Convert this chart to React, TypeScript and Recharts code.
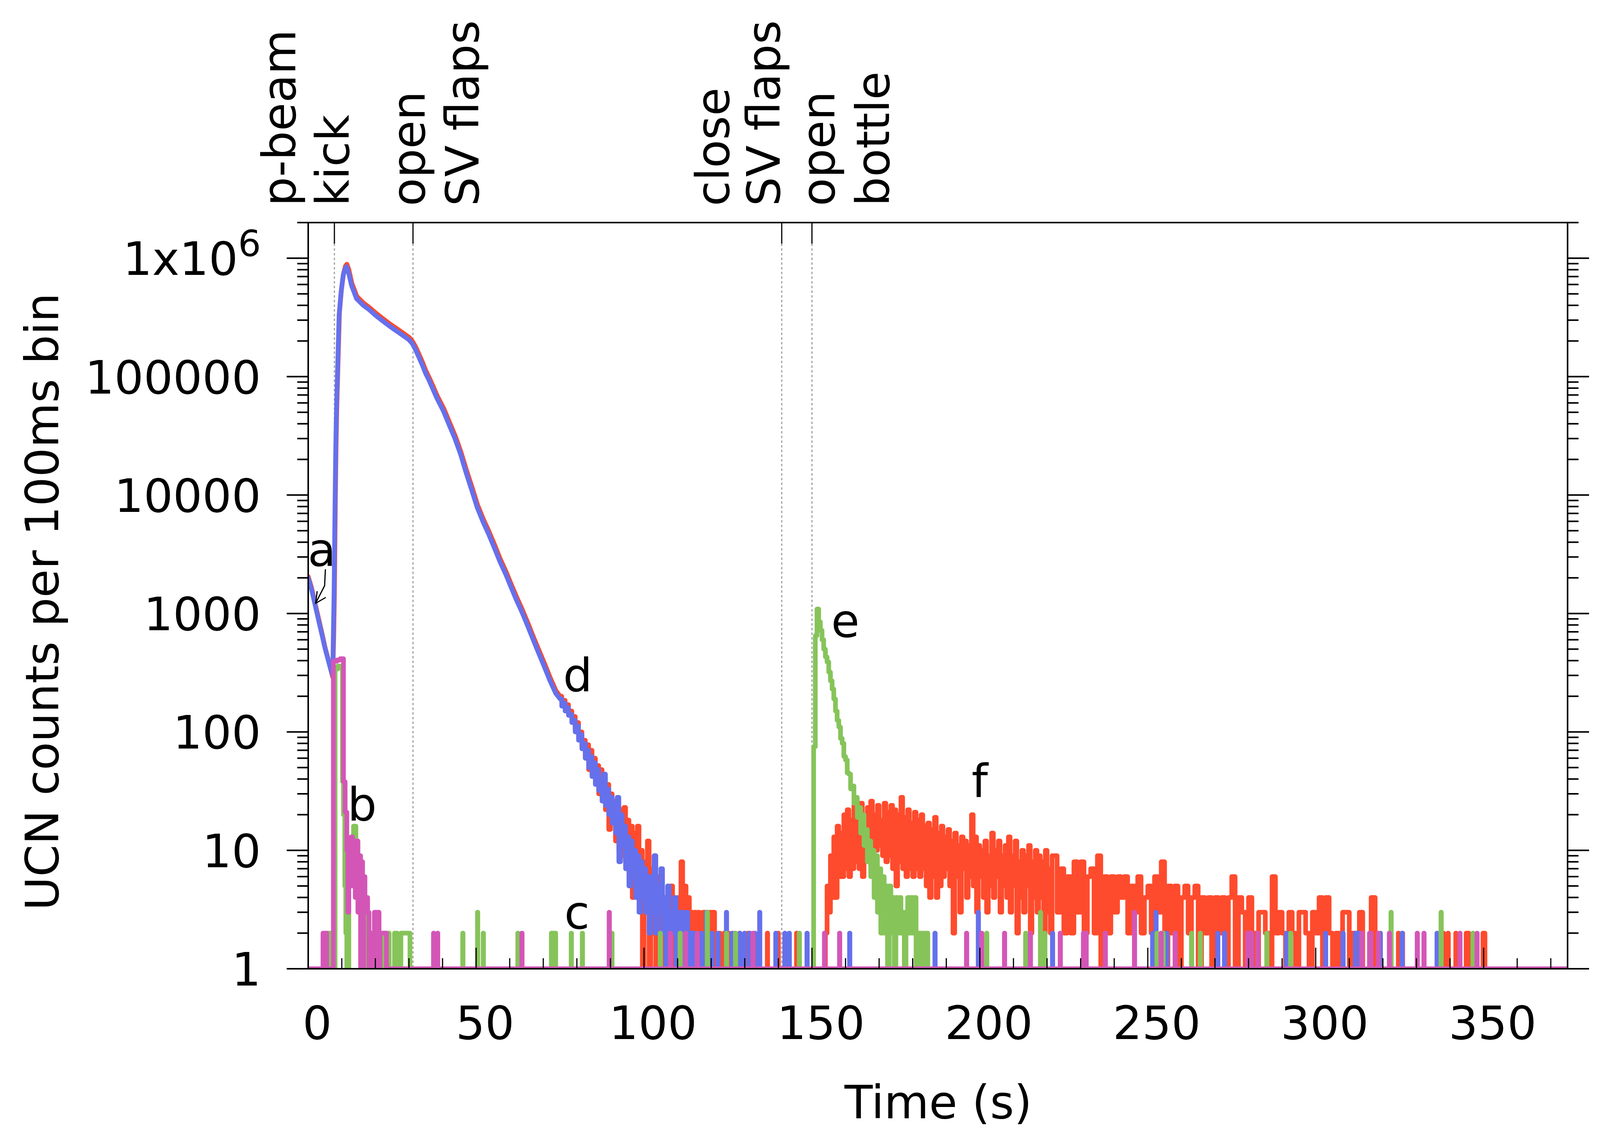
import React from "react";
import { LineChart, Line, XAxis, YAxis, ReferenceLine } from "recharts";

const W = 4306;
const H = 2917;
const LEFT = 789;
const RIGHT = 4013;
const TOP = 570;
const BOTTOM = 2481;
const FONT = "'DejaVu Sans', sans-serif";
const FS = 118;
const LW = 12;

const RED = "#ff4b2d";
const BLUE = "#6570ec";
const GREEN = "#86c45a";
const MAGENTA = "#d356b7";

// axes
const xTicks = [0, 10, 20, 30, 40, 50, 60, 70, 80, 90, 100, 110, 120, 130, 140, 150, 160, 170, 180, 190,
  200, 210, 220, 230, 240, 250, 260, 270, 280, 290, 300, 310, 320, 330, 340, 350, 360, 370];
const xMajor = [0, 50, 100, 150, 200, 250, 300, 350];
const xMajorLabels = ["0", "50", "100", "150", "200", "250", "300", "350"];
const yMajor = [1, 10, 100, 1000, 10000, 100000, 1000000];
const yMajorLabels = ["1", "10", "100", "1000", "10000", "100000", "1x10^6"];
const yMinorFactors = [2, 3, 4, 5, 6, 7, 8, 9];
const yTop = 2000000;
const yTicks = [...yMajor, ...yMajor.slice(0, -1).flatMap((d) => yMinorFactors.map((f) => f * d)), yTop];

// shutter / valve events (s)
const eventTimes = [7.8, 31.2, 141, 150];

// d: detector counts before and after the flaps open, [time, counts]
const blueSmooth = [
  [0, 2000], [1, 1600], [2, 1200], [3, 900], [4, 680], [5, 510], [6, 400], [6.8, 330], [7.3, 300],
  [7.5, 700], [7.7, 1500], [8.0, 9000], [8.2, 25000], [8.4, 50000], [8.8, 130000], [9.2, 330000],
  [9.8, 520000], [10.4, 710000], [11.0, 820000], [11.4, 850000], [12.0, 760000], [12.9, 590000],
  [14.4, 455000], [16.4, 400000], [18.3, 365000], [20, 330000], [22.2, 295000], [24, 270000],
  [26.1, 245000], [28, 225000], [30, 205000], [31, 190000], [32, 168000], [33, 145000], [34, 125000],
  [35, 106000], [36, 93000], [37, 80000], [38.3, 66000], [40.3, 51000], [42, 39000], [43.7, 30000],
  [45.4, 22000], [47, 15500], [48.7, 11000], [50.3, 7900], [52, 6000], [53.7, 4700], [55.4, 3600],
  [57.1, 2740], [58.8, 2150], [60.4, 1670], [62, 1300], [63.7, 1020], [65.4, 780], [67.1, 590],
  [68.8, 450], [70.4, 350], [72, 270], [73.7, 212], [75, 190],
];
const redSmooth = [
  [0, 2050], [1, 1650], [2, 1230], [3, 930], [4, 700], [5, 520], [6, 405], [6.8, 330], [7.3, 290],
  [7.6, 650], [7.8, 1400], [8.1, 9500], [8.3, 26000], [8.5, 52000], [8.9, 135000], [9.3, 345000],
  [9.9, 545000], [10.5, 740000], [11.1, 860000], [11.5, 890000], [12.1, 800000], [13.0, 615000],
  [14.5, 475000], [16.5, 418000], [18.4, 380000], [20.1, 345000], [22.3, 308000], [24.1, 282000],
  [26.2, 256000], [28.1, 235000], [30.1, 214000], [31.1, 198000], [32.1, 176000], [33.1, 152000],
  [34.1, 131000], [35.1, 111000], [36.1, 97000], [37.1, 84000], [38.4, 69000], [40.4, 53500],
  [42.1, 41000], [43.8, 31500], [45.5, 23000], [47.1, 16300], [48.8, 11600], [50.4, 8300],
  [52.1, 6300], [53.8, 4950], [55.5, 3800], [57.2, 2880], [58.9, 2260], [60.5, 1750], [62.1, 1370],
  [63.8, 1070], [65.5, 820], [67.2, 620], [68.9, 475], [70.5, 370], [72.1, 285], [73.8, 222], [75, 200],
];

// noisy tail, counts every 0.5 s from 75 s
const blueNoise = [
  190, 165, 175, 150, 160, 138, 140, 120, 125, 100,
  112, 85, 95, 72, 80, 60, 70, 50, 62, 42,
  55, 36, 48, 32, 40, 26, 44, 24, 33, 20,
  28, 17, 25, 14, 28, 8, 20, 11, 16, 7,
  13, 5, 12, 6, 10, 4, 9, 3, 8, 4,
  7, 3, 6, 2, 6, 3, 9, 2, 5, 3,
  7, 2, 4, 1, 5, 2, 3, 2, 4, 1,
  3, 2, 3, 1, 2, 3, 1, 2, 1, 2,
  1,
];
const redNoise = [
  200, 175, 185, 160, 170, 145, 150, 125, 135, 105,
  120, 90, 100, 75, 85, 60, 78, 48, 70, 45,
  60, 38, 52, 30, 48, 28, 40, 22, 36, 15,
  30, 18, 26, 12, 24, 10, 22, 9, 23, 8,
  18, 6, 16, 4, 14, 5, 16, 4, 10, 1,
  8, 3, 12, 1, 7, 2, 9, 1, 6, 2,
  5, 1, 4, 2, 3, 1, 5, 1, 3, 2,
  4, 1, 8, 2, 5, 1, 4, 2, 3, 1,
  3, 1, 3, 2, 1, 3, 2, 3, 1, 3,
  2, 3, 1,
];

// single bins, [time, counts, number of 0.1 s bins]
const blueSpikes = [
  [117.0, 2], [118.5, 3], [120.2, 2], [122.0, 2], [124.5, 3], [126.2, 2], [128.5, 2], [129.9, 2],
  [131.5, 2], [133.0, 2], [134.4, 3], [139.2, 2], [141.9, 2], [143.2, 2], [148.5, 2], [161.2, 2],
  [186.6, 2], [199.5, 3], [221.6, 2], [251.4, 2], [252.4, 3], [255.6, 2], [270.8, 2], [272.8, 2],
  [291.3, 2], [302.9, 2], [308.1, 2], [311.8, 2, 15], [319.2, 2], [325.7, 2], [336.1, 2],
];
const redSpikes = [
  [122.5, 2], [123.8, 2], [125.2, 2], [127.0, 2], [128.4, 2], [130.9, 2], [136.7, 2], [139.9, 2], [145.4, 2],
];

// f: counts after the bottle is opened, every 0.5 s from 154 s, then every 1 s from 222 s
const redF = [
  2, 5, 3, 9, 4, 13, 4, 16, 6, 14,
  6, 20, 7, 22, 6, 18, 7, 24, 8, 21,
  7, 25, 6, 19, 9, 23, 10, 26, 11, 20,
  10, 24, 11, 18, 9, 25, 8, 21, 9, 24,
  7, 22, 5, 20, 8, 28, 7, 19, 6, 22,
  7, 17, 6, 21, 7, 18, 6, 20, 7, 16,
  5, 17, 4, 15, 6, 19, 4, 14, 5, 16,
  6, 13, 7, 15, 5, 12, 2, 14, 6, 11,
  3, 13, 7, 12, 4, 11, 6, 20, 5, 13,
  3, 11, 6, 10, 4, 12, 3, 9, 5, 14,
  4, 10, 6, 12, 3, 9, 5, 11, 4, 13,
  3, 9, 5, 12, 2, 8, 4, 10, 3, 9,
  5, 11, 2, 8, 4, 10, 3, 9, 4, 8,
  2, 10, 3, 7, 2, 9,
];
const redTail = [
  9, 3, 7, 2, 6, 2, 8, 3, 8, 2,
  6, 7, 2, 9, 1, 6, 2, 6, 3, 6,
  4, 6, 2, 5, 3, 6, 2, 4, 5, 2,
  6, 3, 8, 1, 5, 2, 5, 1, 4, 5,
  2, 4, 5, 1, 4, 2, 4, 1, 4, 2,
  4, 1, 4, 6, 1, 4, 3, 1, 4, 2,
  1, 3, 3, 2, 1, 6, 2, 3, 2, 1,
  3, 2, 1, 3, 3, 2, 1, 3, 2, 4,
  1, 4, 2, 1, 2, 1, 3, 3, 1, 2,
  1, 3, 1, 1,
];
const redLateSpikes = [
  [316.5, 4, 12], [324.6, 2], [325.8, 2], [338.0, 2], [339.4, 2], [341.7, 2], [344.8, 2, 8], [349.8, 2, 6],
];

// e: green detector, step points [time, counts]
const greenEarly = [
  [0, 1], [5.7, 2], [7.1, 1], [8.0, 340], [8.8, 360], [9.5, 350], [10.2, 38], [10.5, 20], [10.9, 5],
  [11.2, 2], [11.5, 1], [12.1, 12], [12.8, 8], [13.5, 16], [14.2, 12], [14.8, 9], [15.5, 6], [16.2, 4],
  [17.0, 2], [17.7, 1], [22.2, 2], [24.1, 1], [25.7, 2], [26.5, 1], [27.6, 2], [30.3, 1],
];
const greenMidSpikes = [
  [46.0, 2], [50.4, 3], [52.1, 2], [62.4, 2], [72.4, 2, 13], [78.3, 2], [81.6, 2], [90.4, 2],
  [104.8, 2], [110.7, 2], [118.8, 3], [124.5, 2], [127.2, 2], [146.2, 2],
];
// counts every 0.5 s from 150 s
const greenE = [
  1, 75, 650, 1090, 850, 720, 600, 500, 430, 390,
  320, 270, 230, 190, 150, 125, 110, 88, 80, 62,
  58, 45, 44, 33, 35, 25, 28, 19, 23, 14,
  20, 11, 15, 8, 12, 6, 10, 4, 9, 3,
  7, 2, 6, 2, 5, 1, 5, 2, 4, 1,
  4, 2, 4, 2, 3, 1, 3, 4, 2, 4,
  2, 4, 1, 2, 1, 2, 1, 2, 2, 1,
];
const greenLateSpikes = [
  [202.0, 2], [213.6, 2], [218.0, 3], [219.3, 2], [252.7, 2], [254.5, 2], [263.0, 2], [265.6, 2],
  [285.4, 2], [292.5, 2], [322.4, 3], [337.3, 3], [346.8, 2],
];

// b: magenta detector, step points [time, counts]
const magentaEarly = [
  [0, 1], [4.4, 2], [5.5, 1], [7.5, 395], [8.6, 405], [9.5, 415], [10.5, 38], [11.0, 21], [11.5, 10],
  [11.8, 3], [12.1, 10], [12.4, 5], [12.8, 13], [13.2, 5], [13.6, 12], [14.0, 4], [14.4, 12], [14.8, 3],
  [15.2, 9], [15.6, 1], [15.9, 8], [16.2, 1], [16.5, 6], [16.9, 3], [17.3, 4], [17.7, 3], [18.1, 1],
  [18.4, 2], [19.1, 1], [19.7, 3], [21.1, 1], [21.4, 2], [23.3, 1],
];
const magentaSpikes = [
  [37.3, 2], [38.5, 2], [63.6, 2], [89.6, 3], [107.8, 2], [112.3, 2], [115.8, 2], [132.4, 2],
  [153.7, 2], [158.2, 2], [196.0, 2], [200.5, 2], [207.3, 2], [215.0, 2], [223.9, 2], [230.8, 2, 9],
  [237.3, 2], [246.0, 3], [253.9, 2], [258.1, 2], [279.7, 2, 12], [282.7, 2], [313.7, 2], [316.0, 2, 5],
  [318.6, 2], [321.9, 2], [330.2, 2], [332.2, 2], [342.9, 2], [348.0, 2],
];

type Pt = { t: number; v: number };
const r2 = (n: number) => Math.round(n * 100) / 100;
const toPts = (rows: number[][]): Pt[] => rows.map(([t, v]) => ({ t, v }));
const fromBins = (start: number, step: number, counts: number[]): Pt[] =>
  counts.map((v, i) => ({ t: r2(start + i * step), v }));
const fromSpikes = (rows: number[][]): Pt[] =>
  rows.flatMap(([t, v, n = 1]) => [{ t, v }, { t: r2(t + 0.1 * n), v: 1 }]);
const END: Pt = { t: 375, v: 1 };

const redSmoothPts = toPts(redSmooth);
const blueSmoothPts = toPts(blueSmooth);
const redSteps = [
  ...fromBins(75, 0.5, redNoise), ...fromSpikes(redSpikes), ...fromBins(154, 0.5, redF),
  ...fromBins(222, 1, redTail), ...fromSpikes(redLateSpikes), END,
];
const blueSteps = [...fromBins(75, 0.5, blueNoise), ...fromSpikes(blueSpikes), END];
const greenSteps = [
  ...toPts(greenEarly), ...fromSpikes(greenMidSpikes), ...fromBins(150, 0.5, greenE),
  ...fromSpikes(greenLateSpikes), END,
];
const magentaSteps = [...toPts(magentaEarly), ...fromSpikes(magentaSpikes), END];

function XTick(props: any) {
  const x = props.x;
  const i = xMajor.indexOf(props.payload.value);
  return (
    <g>
      <line x1={x} x2={x} y1={BOTTOM} y2={BOTTOM - (i >= 0 ? 54 : 27)} stroke="#000" strokeWidth={3} />
      {i >= 0 && (
        <text x={x + 23} y={2661} textAnchor="middle" fontSize={FS} fontFamily={FONT} fill="#000">
          {xMajorLabels[i]}
        </text>
      )}
    </g>
  );
}

function YTick(props: any) {
  const y = props.y;
  const i = yMajor.indexOf(props.payload.value);
  const len = i >= 0 ? 55 : 28;
  let label = null;
  if (i >= 0) {
    const [base, exp] = yMajorLabels[i].split("^");
    label = (
      <text x={668} y={y + 43} textAnchor="end" fontSize={FS} fontFamily={FONT} fill="#000">
        {base}
        {exp && <tspan dy={-48} fontSize={92}>{exp}</tspan>}
      </text>
    );
  }
  return (
    <g>
      <line x1={LEFT} x2={LEFT - len} y1={y} y2={y} stroke="#000" strokeWidth={4} />
      <line x1={RIGHT} x2={RIGHT + len} y1={y} y2={y} stroke="#000" strokeWidth={4} />
      {label}
    </g>
  );
}

function EventLine(p: any) {
  const top = Math.min(p.y1, p.y2);
  const bot = Math.max(p.y1, p.y2);
  return (
    <g>
      <line x1={p.x1} x2={p.x1} y1={top + 54} y2={bot} stroke="#a0a0a0" strokeWidth={3} strokeDasharray="6 6" />
      <line x1={p.x1} x2={p.x1} y1={top} y2={top + 54} stroke="#000" strokeWidth={3} />
    </g>
  );
}

function VText({ x, text }: { x: number; text: string }) {
  return (
    <text x={x} y={528} transform={`rotate(-90 ${x} 528)`} fontSize={FS} fontFamily={FONT} fill="#000">
      {text}
    </text>
  );
}

function Note({ x, y, text }: { x: number; y: number; text: string }) {
  return (
    <text x={x} y={y} textAnchor="middle" fontSize={FS} fontFamily={FONT} fill="#000">
      {text}
    </text>
  );
}

const seriesStyle = { strokeWidth: LW, strokeLinejoin: "round", strokeLinecap: "round" } as const;

export default function App() {
  return (
    <div style={{ position: "absolute", left: 0, top: 0, width: W, height: H, background: "#fff" }}>
      <LineChart
        width={W}
        height={H}
        margin={{ top: TOP, right: W - RIGHT, bottom: H - BOTTOM - 30, left: LEFT - 60 }}
      >
        <XAxis
          type="number"
          dataKey="t"
          domain={[0, 375]}
          allowDataOverflow
          ticks={xTicks}
          interval={0}
          tick={XTick}
          tickLine={false}
          axisLine={{ stroke: "#000", strokeWidth: 4 }}
          height={30}
        />
        <YAxis
          type="number"
          dataKey="v"
          scale="log"
          domain={[1, yTop]}
          allowDataOverflow
          ticks={yTicks}
          interval={0}
          tick={YTick}
          tickLine={false}
          axisLine={{ stroke: "#000", strokeWidth: 4 }}
          width={60}
        />
        {eventTimes.map((t) => (
          <ReferenceLine key={t} x={t} ifOverflow="visible" stroke="#a0a0a0" shape={EventLine} />
        ))}
        <Line data={redSmoothPts} dataKey="v" type="linear" stroke={RED} strokeWidth={LW} style={seriesStyle}
          strokeLinejoin="round" strokeLinecap="round" dot={false} activeDot={false} isAnimationActive={false} />
        <Line data={redSteps} dataKey="v" type="stepAfter" stroke={RED} strokeWidth={LW} style={seriesStyle}
          strokeLinejoin="round" strokeLinecap="round" dot={false} activeDot={false} isAnimationActive={false} />
        <Line data={blueSmoothPts} dataKey="v" type="linear" stroke={BLUE} strokeWidth={LW} style={seriesStyle}
          strokeLinejoin="round" strokeLinecap="round" dot={false} activeDot={false} isAnimationActive={false} />
        <Line data={blueSteps} dataKey="v" type="stepAfter" stroke={BLUE} strokeWidth={LW} style={seriesStyle}
          strokeLinejoin="round" strokeLinecap="round" dot={false} activeDot={false} isAnimationActive={false} />
        <Line data={greenSteps} dataKey="v" type="stepAfter" stroke={GREEN} strokeWidth={LW} style={seriesStyle}
          strokeLinejoin="round" strokeLinecap="round" dot={false} activeDot={false} isAnimationActive={false} />
        <Line data={magentaSteps} dataKey="v" type="stepAfter" stroke={MAGENTA} strokeWidth={LW} style={seriesStyle}
          strokeLinejoin="round" strokeLinecap="round" dot={false} activeDot={false} isAnimationActive={false} />
        <ReferenceLine y={yTop} ifOverflow="visible" stroke="#000" strokeWidth={4} />
        <ReferenceLine x={375} ifOverflow="visible" stroke="#000" strokeWidth={4} />
      </LineChart>
      <svg
        width={W}
        height={H}
        style={{ position: "absolute", left: 0, top: 0, pointerEvents: "none" }}
      >
        <VText x={756} text="p-beam" />
        <VText x={893} text="kick" />
        <VText x={1087} text="open" />
        <VText x={1225} text="SV flaps" />
        <VText x={1866} text="close" />
        <VText x={1996} text="SV flaps" />
        <VText x={2136} text="open" />
        <VText x={2276} text="bottle" />

        <Note x={824} y={1449} text="a" />
        <Note x={927} y={2102} text="b" />
        <Note x={1477} y={2378} text="c" />
        <Note x={1479} y={1771} text="d" />
        <Note x={2164} y={1631} text="e" />
        <Note x={2508} y={2042} text="f" />
        <path d="M 833 1458 L 831 1500 L 810 1541" fill="none" stroke="#000" strokeWidth={3} />
        <path d="M 812 1514 L 808 1545 L 834 1530" fill="none" stroke="#000" strokeWidth={3} />

        <text
          x={149}
          y={1541}
          transform="rotate(-90 149 1541)"
          textAnchor="middle"
          fontSize={FS}
          fontFamily={FONT}
          fill="#000"
        >
          UCN counts per 100ms bin
        </text>
        <text x={2402} y={2864} textAnchor="middle" fontSize={FS} fontFamily={FONT} fill="#000">
          Time (s)
        </text>
      </svg>
    </div>
  );
}
